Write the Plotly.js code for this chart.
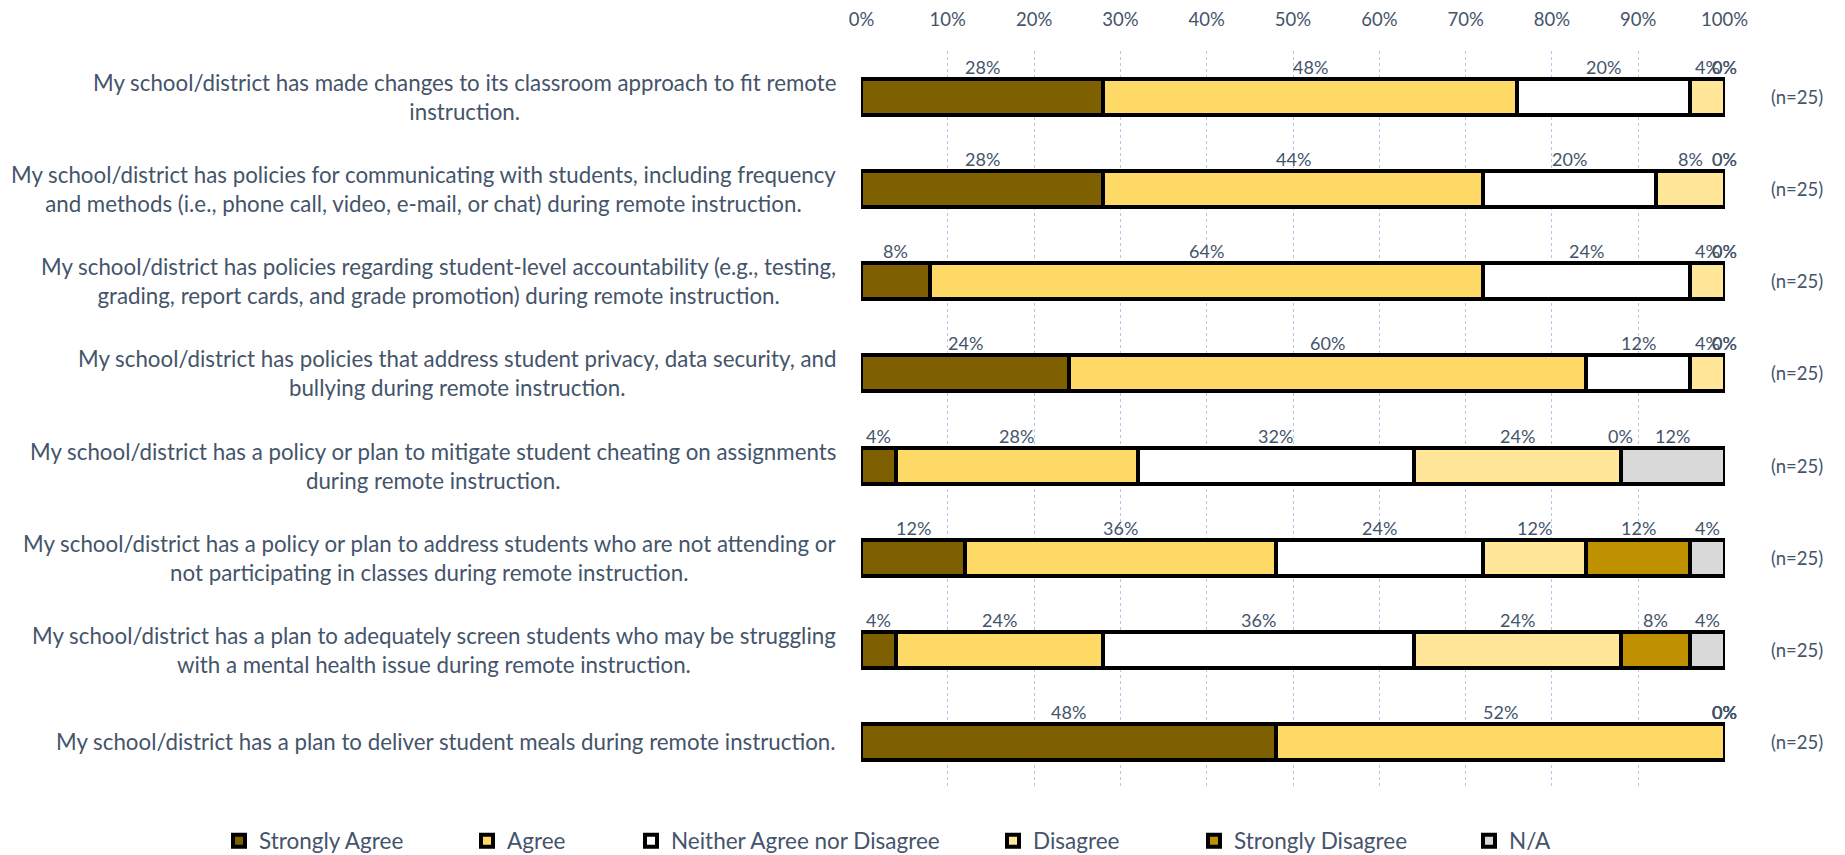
<!DOCTYPE html>
<html>
<head>
<meta charset="utf-8">
<script src="https://cdn.plot.ly/plotly-3.0.1.min.js"></script>
<style>html,body{margin:0;padding:0;background:#fff;}#chart{width:1845px;height:855px;}</style>
</head>
<body>
<div id="chart"></div>
<script>
const categories = [
  "My school/district has made changes to its classroom approach to fit remote<br>instruction.",
  "My school/district has policies for communicating with students, including frequency<br>and methods (i.e., phone call, video, e-mail, or chat) during remote instruction.",
  "My school/district has policies regarding student-level accountability (e.g., testing,<br>grading, report cards, and grade promotion) during remote instruction.",
  "My school/district has policies that address student privacy, data security, and<br>bullying during remote instruction.",
  "My school/district has a policy or plan to mitigate student cheating on assignments<br>during remote instruction.",
  "My school/district has a policy or plan to address students who are not attending or<br>not participating in classes during remote instruction.",
  "My school/district has a plan to adequately screen students who may be struggling<br>with a mental health issue during remote instruction.",
  "My school/district has a plan to deliver student meals during remote instruction."
];
const seriesNames = ["Strongly Agree", "Agree", "Neither Agree nor Disagree", "Disagree", "Strongly Disagree", "N/A"];
const stronglyAgree    = [28, 28,  8, 24,  4, 12,  4, 48];
const agree            = [48, 44, 64, 60, 28, 36, 24, 52];
const neither          = [20, 20, 24, 12, 32, 24, 36,  0];
const disagree         = [ 4,  8,  4,  4, 24, 12, 24,  0];
const stronglyDisagree = [ 0,  0,  0,  0,  0, 12,  8,  0];
const notApplicable    = [ 0,  0,  0,  0, 12,  4,  4,  0];
const sampleSizes      = [25, 25, 25, 25, 25, 25, 25, 25];
const xTickValues = [0, 10, 20, 30, 40, 50, 60, 70, 80, 90, 100];
const xTickLabels = ["0%", "10%", "20%", "30%", "40%", "50%", "60%", "70%", "80%", "90%", "100%"];

const seriesValues = [stronglyAgree, agree, neither, disagree, stronglyDisagree, notApplicable];
const colors = ["#7F6000", "#FFD966", "#FFFFFF", "#FFE699", "#BF9000", "#D9D9D9"];
const textColor = "#44546A";
const FONT = "Lato, 'Open Sans', sans-serif";

const W = 1845, H = 855;
const L = 861, R = 120, T = 51, B = 67;
const pw = W - L - R, ph = H - T - B;
const px2x = p => (p - L) / pw;
const py2y = p => (H - B - p) / ph;

const legendTextStarts = [261, 509, 673, 1035, 1236, 1511];
const legendNames = ["legend", "legend2", "legend3", "legend4", "legend5", "legend6"];

const traces = seriesValues.map((vals, i) => ({
  type: "bar",
  orientation: "h",
  name: seriesNames[i],
  x: vals,
  y: categories,
  marker: { color: colors[i], line: { color: "#000000", width: 4 } },
  hoverinfo: "x+name",
  legend: legendNames[i]
}));

const annotations = [];
categories.forEach((cat, ci) => {
  let cum = 0;
  seriesValues.forEach((vals) => {
    const v = vals[ci];
    annotations.push({
      x: cum + v / 2, y: cat, xref: "x", yref: "y",
      text: v + "%", showarrow: false, yshift: 30,
      font: { family: FONT, size: 18, color: textColor }
    });
    cum += v;
  });
  annotations.push({
    x: px2x(838), y: cat, xref: "paper", yref: "y",
    xanchor: "right", align: "center", text: cat, showarrow: false,
    font: { family: FONT, size: 22.3, color: textColor }
  });
  annotations.push({
    x: px2x(1797), y: cat, xref: "paper", yref: "y",
    xanchor: "center", text: "(n=" + sampleSizes[ci] + ")", showarrow: false,
    font: { family: FONT, size: 18.5, color: textColor }
  });
});

const layout = {
  width: W, height: H,
  margin: { l: L, r: R, t: T, b: B, pad: 0, autoexpand: false },
  paper_bgcolor: "#ffffff", plot_bgcolor: "#ffffff",
  barmode: "stack",
  bargap: 0.61,
  showlegend: true,
  xaxis: {
    side: "top", range: [-0.05, 100.05], tickmode: "array",
    tickvals: xTickValues, ticktext: xTickLabels,
    showgrid: true, gridcolor: "#B4C7E7", griddash: "dot", gridwidth: 1,
    zeroline: false, showline: false, ticks: "",
    ticklabelstandoff: 20,
    tickfont: { family: FONT, size: 18.5, color: textColor },
    fixedrange: true
  },
  yaxis: {
    type: "category", autorange: "reversed", showticklabels: false,
    showgrid: false, zeroline: false, showline: false, fixedrange: true
  },
  annotations: annotations
};
legendNames.forEach((ln, i) => {
  layout[ln] = {
    x: px2x(legendTextStarts[i] - 42), y: py2y(841),
    xanchor: "left", yanchor: "middle", orientation: "h",
    bgcolor: "rgba(0,0,0,0)", borderwidth: 0,
    font: { family: FONT, size: 22.5, color: textColor }
  };
});

Plotly.newPlot("chart", traces, layout, { displayModeBar: false, staticPlot: true });
</script>
</body>
</html>
